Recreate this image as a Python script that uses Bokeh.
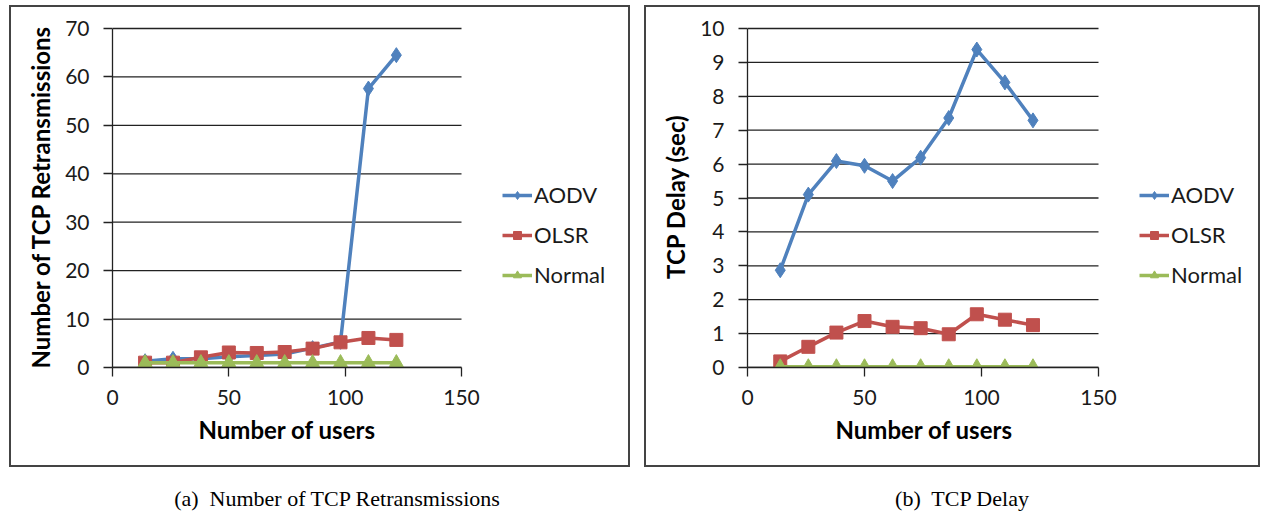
from bokeh.plotting import figure
from bokeh.layouts import row, column
from bokeh.models import (Legend, LegendItem, FixedTicker, Range1d, Spacer, Div,
                          Title)
from bokeh.embed import file_html
from bokeh.resources import INLINE

# Number of users in the network
users = [14, 26, 38, 50, 62, 74, 86, 98, 110, 122]

# (a) TCP retransmissions
retx_aodv = [1.3, 1.8, 1.8, 2.2, 2.5, 2.8, 4.0, 5.3, 57.6, 64.5]
retx_olsr = [1.0, 1.0, 2.1, 3.1, 3.0, 3.2, 3.9, 5.2, 6.1, 5.7]
retx_normal = [1.0, 1.0, 1.0, 1.0, 1.0, 1.0, 1.0, 1.0, 1.0, 1.0]

# (b) TCP delay in seconds
delay_aodv = [2.87, 5.1, 6.09, 5.95, 5.5, 6.19, 7.36, 9.38, 8.41, 7.29]
delay_olsr = [0.18, 0.61, 1.03, 1.37, 1.2, 1.16, 0.98, 1.57, 1.41, 1.25]
delay_normal = [0.02, 0.02, 0.02, 0.02, 0.02, 0.02, 0.02, 0.02, 0.02, 0.02]

series_names = ["AODV", "OLSR", "Normal"]
x_title = "Number of users"
x_limits = (0, 150)
x_ticks = [0, 50, 100, 150]
retx_ticks = [0, 10, 20, 30, 40, 50, 60, 70]
delay_ticks = [0, 1, 2, 3, 4, 5, 6, 7, 8, 9, 10]

BLUE = "#4F81BD"
RED = "#C0504D"
GREEN = "#9BBB59"
FONT = "Lato"
TEXT = "#1a1a1a"
INK = "#222222"


def panel(axis_w, frame_w, axis_h, b_left, b_right, b_top, b_bottom,
          y_ticks, y_label, series, x_title_offset):
    # the frame is wider than the x axis so the legend can sit to its right,
    # and 3px taller so the top grid line is not cut by the frame edge
    pad = 3
    frame_h = axis_h + pad
    x_end = x_limits[1] * frame_w / axis_w
    y_end = y_ticks[-1] * frame_h / axis_h
    p = figure(frame_width=frame_w, frame_height=frame_h,
               output_backend="svg", toolbar_location=None,
               x_range=Range1d(0, x_end), y_range=Range1d(0, y_end),
               min_border_left=b_left, min_border_right=b_right,
               min_border_top=b_top - pad, min_border_bottom=b_bottom,
               styles={"outline": "2px solid #444444", "outline-offset": "-2px"})
    p.outline_line_color = None
    p.background_fill_color = "white"
    p.border_fill_alpha = 0
    p.grid.visible = False

    # horizontal grid lines spanning only the x axis extent
    n = len(y_ticks)
    p.segment(x0=[x_limits[0]] * n, x1=[x_limits[1]] * n, y0=y_ticks, y1=y_ticks,
              line_color=INK, line_width=1.3)

    p.xaxis.ticker = FixedTicker(ticks=x_ticks)
    p.xaxis.bounds = x_limits
    p.yaxis.ticker = FixedTicker(ticks=y_ticks)
    p.yaxis.bounds = (y_ticks[0], y_ticks[-1])
    for ax in (p.xaxis, p.yaxis):
        ax.axis_line_color = INK
        ax.axis_line_width = 1.3
        ax.major_tick_line_color = INK
        ax.major_tick_line_width = 1.3
        ax.major_tick_in = 0
        ax.major_tick_out = 9
        ax.minor_tick_line_color = None
        ax.major_label_text_font = FONT
        ax.major_label_text_font_size = "21px"
        ax.major_label_text_color = TEXT
        ax.axis_label_text_font = FONT
        ax.axis_label_text_font_style = "bold"
        ax.axis_label_text_font_size = "24px"
        ax.axis_label_text_color = "#000000"
    p.yaxis.major_label_standoff = 14
    p.xaxis.major_label_standoff = 13
    p.yaxis.axis_label = y_label
    p.yaxis.axis_label_standoff = 7

    # x axis title, centred under the 0-150 axis rather than the whole frame
    p.add_layout(Title(text=x_title, align="left", offset=x_title_offset,
                       text_font=FONT, text_font_style="bold",
                       text_font_size="24px", text_color="#000000",
                       standoff=11), "below")

    ys_a, ys_o, ys_n = series
    items = []
    for ys, color, marker, size, name in (
            (ys_a, BLUE, "diamond", 15, series_names[0]),
            (ys_o, RED, "square", 13, series_names[1]),
            (ys_n, GREEN, "triangle", 14, series_names[2])):
        ln = p.line(users, ys, line_color=color, line_width=3.5)
        mk = p.scatter(users, ys, marker=marker, size=size, fill_color=color,
                       line_color=color)
        items.append(LegendItem(label=name, renderers=[ln, mk]))

    legend = Legend(items=items, location=(axis_w + 41, 79),
                    orientation="vertical",
                    glyph_width=30, glyph_height=20, label_height=20,
                    spacing=13, padding=0, margin=0, label_standoff=2,
                    label_text_font=FONT, label_text_font_size="22px",
                    label_text_color=TEXT, border_line_color=None,
                    background_fill_alpha=0)
    p.add_layout(legend, "center")
    return p


left = panel(349, 512, 339, 103, 6, 23, 100, retx_ticks,
             "Number of TCP Retransmissions",
             (retx_aodv, retx_olsr, retx_normal), 86)
right = panel(351, 508, 339, 103, 5, 22, 101, delay_ticks, "TCP Delay (sec)",
              (delay_aodv, delay_olsr, delay_normal), 88)

caption_style = {"font-family": "Liberation Serif", "font-size": "22px",
                 "color": "#000000", "text-align": "center", "white-space": "pre",
                 "width": "100%"}
cap_a = Div(text="(a)  Number of TCP Retransmissions", width=600, height=28,
            styles=caption_style)
cap_b = Div(text="(b)  TCP Delay", width=600, height=28, styles=caption_style)

layout = column(
    Spacer(height=5),
    row(Spacer(width=9), left, Spacer(width=14), right),
    Spacer(height=11),
    row(Spacer(width=32), cap_a, Spacer(width=15), cap_b),
)
open("out.html", "w").write(file_html(layout, INLINE))
